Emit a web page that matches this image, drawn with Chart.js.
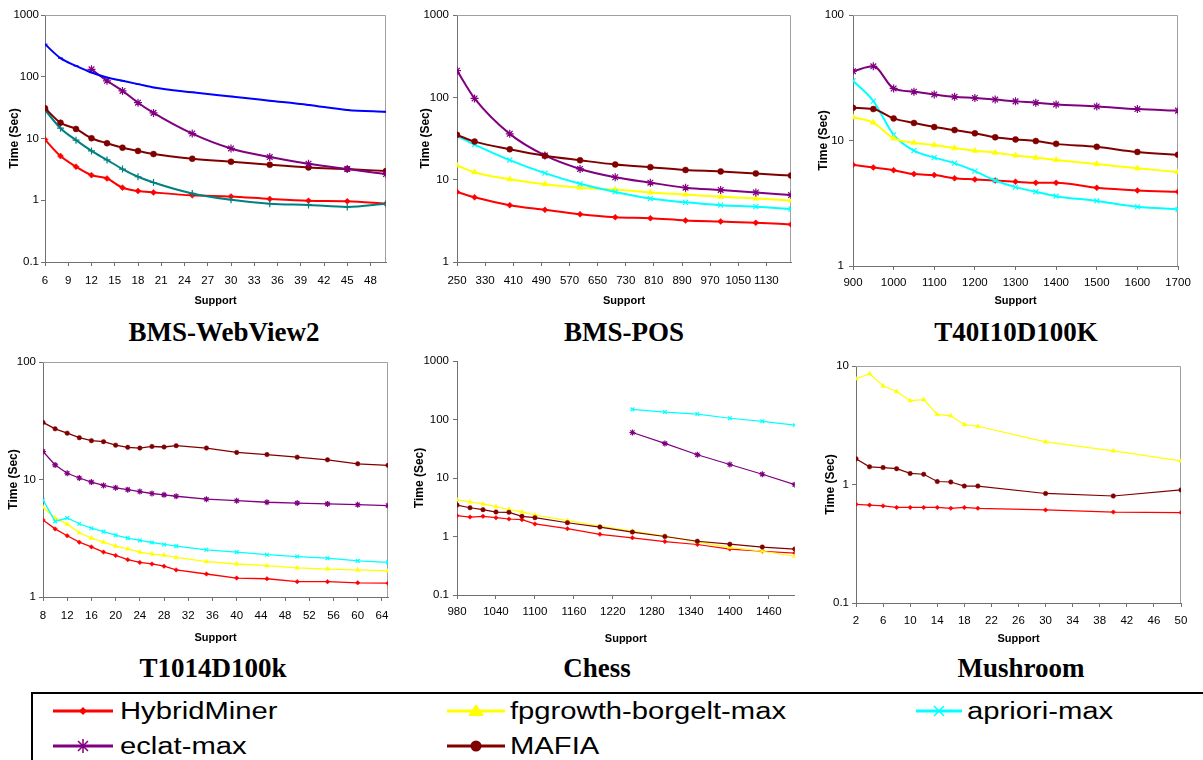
<!DOCTYPE html>
<html>
<head>
<meta charset="utf-8">
<title>Runtime comparison</title>
<script src="https://cdn.jsdelivr.net/npm/chart.js@4.4.1/dist/chart.umd.min.js"></script>
<style>
    body { margin: 0; background: #fff; }
    #page { position: relative; width: 1203px; height: 760px; overflow: hidden; background: #fff; }
    #page canvas { position: absolute; }
    .title { position: absolute; width: 320px; margin-left: -160px; text-align: center; font: bold 27px "Liberation Serif", "Times New Roman", serif; line-height: 27px; color: #000; }
    #legendBox { position: absolute; left: 31px; top: 692px; width: 1200px; height: 100px; border: 2px solid #000; box-sizing: border-box; }
    .item { position: absolute; height: 26px; }
    .item svg { position: absolute; left: 0; top: 0; }
    .item span { position: absolute; top: 0; line-height: 26px; font: 23px "Liberation Sans", Arial, sans-serif; color: #000; white-space: nowrap; transform: scaleX(1.27); transform-origin: left center; }
</style>
</head>
<body>
<div id="page"></div>
<script>
// BMS-WebView2
var webviewSupport = [6, 8, 10, 12, 14, 16, 18, 20, 25, 30, 35, 40, 45, 50];
var webviewHybrid = [9.6, 5.2, 3.5, 2.55, 2.25, 1.6, 1.41, 1.34, 1.2, 1.15, 1.05, 0.98, 0.96, 0.88];
var webviewApriori = [336, 200, 150, 117, 97, 86, 76, 67, 56, 48, 41, 35, 29, 27];
var webviewFpgrowth = [29, 14.7, 9.4, 6.3, 4.5, 3.2, 2.4, 1.94, 1.29, 1.02, 0.88, 0.84, 0.78, 0.88];
var webviewEclat = [null, null, null, 132, 86, 59, 38, 26, 12, 6.9, 5.0, 3.9, 3.2, 2.65];
var webviewMafia = [31, 18, 14.3, 10.1, 8.4, 7.1, 6.3, 5.6, 4.7, 4.2, 3.75, 3.4, 3.2, 2.97];
var webviewXTicks = [6, 9, 12, 15, 18, 21, 24, 27, 30, 33, 36, 39, 42, 45, 48];
var webviewYTicks = [0.1, 1, 10, 100, 1000];

// BMS-POS
var posSupport = [250, 300, 400, 500, 600, 700, 800, 900, 1000, 1100, 1200];
var posHybrid = [7.1, 6.1, 4.9, 4.3, 3.8, 3.5, 3.4, 3.2, 3.1, 3.0, 2.86];
var posFpgrowth = [14.9, 12.3, 10.1, 8.8, 8.0, 7.6, 7.0, 6.6, 6.2, 5.9, 5.6];
var posApriori = [34, 26.7, 17.3, 12, 8.9, 7.1, 5.9, 5.3, 4.9, 4.7, 4.4];
var posEclat = [211, 97, 36, 19.7, 13.5, 10.7, 9.2, 8.0, 7.5, 7.0, 6.5];
var posMafia = [35, 29, 23.4, 19.5, 17.2, 15.3, 14.2, 13.1, 12.6, 11.9, 11.2];
var posXTicks = [250, 330, 410, 490, 570, 650, 730, 810, 890, 970, 1050, 1130];
var posYTicks = [1, 10, 100, 1000];

// T40I10D100K
var t40Support = [900, 950, 1000, 1050, 1100, 1150, 1200, 1250, 1300, 1350, 1400, 1500, 1600, 1700];
var t40Hybrid = [6.4, 6.1, 5.8, 5.4, 5.3, 5.0, 4.9, 4.8, 4.7, 4.6, 4.6, 4.2, 4.0, 3.9];
var t40Fpgrowth = [15.3, 13.9, 10.4, 9.6, 9.2, 8.7, 8.3, 8.0, 7.6, 7.3, 7.0, 6.5, 6.0, 5.6];
var t40Apriori = [29.9, 20.6, 11.1, 8.3, 7.3, 6.6, 5.7, 4.8, 4.25, 3.9, 3.6, 3.3, 2.96, 2.83];
var t40Eclat = [35.7, 39, 26, 24.5, 23.3, 22.3, 21.8, 21.2, 20.5, 20, 19.4, 18.7, 17.8, 17.3];
var t40Mafia = [18.2, 17.8, 15, 13.8, 12.8, 12.1, 11.4, 10.6, 10.2, 9.9, 9.4, 8.9, 8.1, 7.7];
var t40XTicks = [900, 1000, 1100, 1200, 1300, 1400, 1500, 1600, 1700];
var t40YTicks = [1, 10, 100];

// T1014D100k
var t10Support = [8, 10, 12, 14, 16, 18, 20, 22, 24, 26, 28, 30, 35, 40, 45, 50, 55, 60, 65];
var t10Hybrid = [4.53, 3.8, 3.32, 2.93, 2.67, 2.41, 2.26, 2.08, 1.97, 1.91, 1.83, 1.70, 1.57, 1.45, 1.43, 1.35, 1.35, 1.32, 1.31];
var t10Fpgrowth = [5.8, 4.7, 4.17, 3.52, 3.17, 2.93, 2.71, 2.57, 2.41, 2.32, 2.27, 2.17, 2.0, 1.91, 1.85, 1.77, 1.73, 1.70, 1.67];
var t10Apriori = [6.7, 4.4, 4.7, 4.2, 3.85, 3.6, 3.36, 3.17, 3.03, 2.91, 2.80, 2.71, 2.52, 2.41, 2.29, 2.21, 2.14, 2.03, 1.97];
var t10Eclat = [17.3, 13.3, 11.3, 10.3, 9.5, 8.9, 8.5, 8.2, 7.9, 7.6, 7.4, 7.2, 6.8, 6.6, 6.4, 6.3, 6.2, 6.1, 6.0];
var t10Mafia = [30.6, 27, 24.8, 22.7, 21.4, 21, 19.6, 18.8, 18.5, 19.1, 18.9, 19.4, 18.5, 17, 16.3, 15.5, 14.7, 13.6, 13.2];
var t10XTicks = [8, 12, 16, 20, 24, 28, 32, 36, 40, 44, 48, 52, 56, 60, 64];
var t10YTicks = [1, 10, 100];

// Chess
var chessSupport = [980, 1000, 1020, 1040, 1060, 1080, 1100, 1150, 1200, 1250, 1300, 1350, 1400, 1450, 1500];
var chessHybrid = [2.27, 2.15, 2.21, 2.1, 1.99, 1.94, 1.64, 1.36, 1.09, 0.95, 0.82, 0.73, 0.61, 0.56, 0.52];
var chessFpgrowth = [4.26, 3.89, 3.6, 3.24, 2.88, 2.63, 2.33, 1.87, 1.51, 1.24, 1.02, 0.81, 0.65, 0.56, 0.46];
var chessApriori = [null, null, null, null, null, null, null, null, null, 149, 134, 124, 105, 93, 80];
var chessEclat = [null, null, null, null, null, null, null, null, null, 60, 39, 25, 17, 11.6, 7.7];
var chessMafia = [3.45, 3.1, 2.88, 2.62, 2.59, 2.21, 2.1, 1.72, 1.45, 1.19, 1.0, 0.83, 0.74, 0.66, 0.61];
var chessXTicks = [980, 1040, 1100, 1160, 1220, 1280, 1340, 1400, 1460];
var chessYTicks = [0.1, 1, 10, 100, 1000];

// Mushroom
var mushSupport = [2, 4, 6, 8, 10, 12, 14, 16, 18, 20, 30, 40, 50];
var mushHybrid = [0.68, 0.67, 0.66, 0.64, 0.64, 0.64, 0.64, 0.63, 0.64, 0.63, 0.61, 0.585, 0.58];
var mushFpgrowth = [7.8, 8.6, 6.8, 6.1, 5.1, 5.2, 3.9, 3.8, 3.2, 3.1, 2.29, 1.92, 1.58];
var mushMafia = [1.65, 1.41, 1.39, 1.36, 1.24, 1.22, 1.06, 1.05, 0.97, 0.97, 0.84, 0.80, 0.90];
var mushXTicks = [2, 6, 10, 14, 18, 22, 26, 30, 34, 38, 42, 46, 50];
var mushYTicks = [0.1, 1, 10];

var seriesStyle = {
    hybrid: { label: 'HybridMiner', color: '#FF0000', marker: 'rectRot', size: 3, filled: true },
    fpgrowth: { label: 'fpgrowth-borgelt-max', color: '#FFFF00', marker: 'triangle', size: 3.5, filled: true },
    apriori: { label: 'apriori-max', color: '#00FFFF', marker: 'crossRot', size: 3.5 },
    eclat: { label: 'eclat-max', color: '#800080', marker: 'star', size: 4 },
    mafia: { label: 'MAFIA', color: '#800000', marker: 'circle', size: 3, filled: true }
};
// the first panel uses other colours for two of the series
var webviewStyle = {
    apriori: { label: 'apriori-max', color: '#0000FF', marker: 'line', size: 2.5 },
    fpgrowth: { label: 'fpgrowth-borgelt-max', color: '#008080', marker: 'cross', size: 3.5 }
};

var FONT = '"Liberation Sans", Arial, sans-serif';
var page = document.getElementById('page');

var frameBox = {
    id: 'frameBox',
    beforeDatasetsDraw: function (chart, args, opts) {
        if (!opts.show) return;
        var a = chart.chartArea, ctx = chart.ctx;
        ctx.save();
        ctx.strokeStyle = '#a0a0a0';
        ctx.lineWidth = 1;
        ctx.beginPath();
        ctx.moveTo(a.left, Math.round(a.top) + 0.5);
        ctx.lineTo(Math.round(a.right) - 0.5, Math.round(a.top) + 0.5);
        ctx.lineTo(Math.round(a.right) - 0.5, a.bottom);
        ctx.stroke();
        ctx.restore();
    }
};

function toPoints(xs, ys) {
    return xs.map(function (x, i) { return { x: x, y: ys[i] }; })
        .filter(function (p) { return p.y != null; });
}

function makeChart(p) {
    var canvas = document.createElement('canvas');
    canvas.width = p.w;
    canvas.height = p.h;
    canvas.style.left = p.left + 'px';
    canvas.style.top = p.top + 'px';
    page.appendChild(canvas);

    var datasets = p.series.map(function (s) {
        var st = (p.styles && p.styles[s.key]) || seriesStyle[s.key];
        return {
            label: st.label,
            data: toPoints(p.support, s.values),
            borderColor: st.color,
            backgroundColor: st.color,
            borderWidth: p.lineWidth,
            pointStyle: st.marker,
            pointRadius: st.size * p.markerScale,
            pointBorderWidth: st.filled ? 0.5 : 1.2,
            pointBackgroundColor: st.color,
            pointBorderColor: st.color,
            cubicInterpolationMode: p.smooth ? 'monotone' : 'default',
            tension: 0
        };
    });

    return new Chart(canvas.getContext('2d'), {
        type: 'line',
        data: { datasets: datasets },
        options: {
            responsive: false,
            animation: false,
            events: [],
            layout: { padding: { left: 0, top: p.padTop, right: p.padRight, bottom: 0 } },
            plugins: {
                legend: { display: false },
                tooltip: { enabled: false },
                frameBox: { show: p.box }
            },
            scales: {
                x: {
                    type: 'linear',
                    min: p.xMin,
                    max: p.xMax,
                    afterBuildTicks: function (axis) {
                        axis.ticks = p.xTicks.map(function (v) { return { value: v }; });
                    },
                    afterFit: function (scale) { scale.height = p.xAxisH; },
                    ticks: {
                        autoSkip: false, maxRotation: 0, color: '#000', padding: p.xTickPad,
                        font: { family: FONT, size: 11.5 },
                        callback: function (v) { return String(v); }
                    },
                    grid: { drawOnChartArea: false, tickLength: 4, color: '#707070' },
                    border: { color: '#707070' },
                    title: {
                        display: true, text: 'Support', color: '#000',
                        font: { family: FONT, size: 11, weight: 'bold' },
                        padding: { top: 0, bottom: 2 }
                    }
                },
                y: {
                    type: 'logarithmic',
                    min: p.yTicks[0],
                    max: p.yTicks[p.yTicks.length - 1],
                    afterBuildTicks: function (axis) {
                        axis.ticks = p.yTicks.map(function (v) { return { value: v, major: true }; });
                    },
                    afterFit: function (scale) { scale.width = p.yAxisW; },
                    ticks: {
                        autoSkip: false, color: '#000', padding: p.yTickPad,
                        font: { family: FONT, size: 11.5 },
                        callback: function (v) { return String(v); }
                    },
                    grid: { drawOnChartArea: false, tickLength: 4, color: '#707070' },
                    border: { color: '#707070' },
                    title: {
                        display: true, text: 'Time (Sec)', color: '#000',
                        font: { family: FONT, size: 12, weight: 'bold' },
                        padding: { top: p.yTitlePad, bottom: 0 }
                    }
                }
            }
        },
        plugins: [frameBox]
    });
}

var panels = [
    {
        title: 'BMS-WebView2', titleX: 224, titleTop: 319,
        left: 0, top: 0, w: 400, h: 310, padTop: 15, padRight: 14, yAxisW: 45, xAxisH: 48,
        xTickPad: 8, yTickPad: 2, yTitlePad: 7, box: true, smooth: true, lineWidth: 2, markerScale: 1,
        support: webviewSupport, xMin: 6, xMax: 50, xTicks: webviewXTicks, yTicks: webviewYTicks,
        styles: webviewStyle,
        series: [
            { key: 'apriori', values: webviewApriori },
            { key: 'eclat', values: webviewEclat },
            { key: 'mafia', values: webviewMafia },
            { key: 'fpgrowth', values: webviewFpgrowth },
            { key: 'hybrid', values: webviewHybrid }
        ]
    },
    {
        title: 'BMS-POS', titleX: 624, titleTop: 319,
        left: 411, top: 0, w: 389, h: 310, padTop: 15, padRight: 9, yAxisW: 46, xAxisH: 48,
        xTickPad: 8, yTickPad: 4, yTitlePad: 7, box: true, smooth: true, lineWidth: 2, markerScale: 1,
        support: posSupport, xMin: 250, xMax: 1200, xTicks: posXTicks, yTicks: posYTicks,
        series: [
            { key: 'mafia', values: posMafia },
            { key: 'eclat', values: posEclat },
            { key: 'apriori', values: posApriori },
            { key: 'fpgrowth', values: posFpgrowth },
            { key: 'hybrid', values: posHybrid }
        ]
    },
    {
        title: 'T40I10D100K', titleX: 1016, titleTop: 319,
        left: 809, top: 0, w: 394, h: 310, padTop: 15, padRight: 25, yAxisW: 44, xAxisH: 44,
        xTickPad: 6, yTickPad: 5, yTitlePad: 7, box: true, smooth: true, lineWidth: 2, markerScale: 1,
        support: t40Support, xMin: 900, xMax: 1700, xTicks: t40XTicks, yTicks: t40YTicks,
        series: [
            { key: 'eclat', values: t40Eclat },
            { key: 'mafia', values: t40Mafia },
            { key: 'fpgrowth', values: t40Fpgrowth },
            { key: 'apriori', values: t40Apriori },
            { key: 'hybrid', values: t40Hybrid }
        ]
    },
    {
        title: 'T1014D100k', titleX: 213, titleTop: 655,
        left: 0, top: 350, w: 400, h: 297, padTop: 12, padRight: 12, yAxisW: 43, xAxisH: 50,
        xTickPad: 8, yTickPad: 3, yTitlePad: 6, box: true, smooth: false, lineWidth: 1.3, markerScale: 0.75,
        support: t10Support, xMin: 8, xMax: 65, xTicks: t10XTicks, yTicks: t10YTicks,
        series: [
            { key: 'mafia', values: t10Mafia },
            { key: 'eclat', values: t10Eclat },
            { key: 'apriori', values: t10Apriori },
            { key: 'fpgrowth', values: t10Fpgrowth },
            { key: 'hybrid', values: t10Hybrid }
        ]
    },
    {
        title: 'Chess', titleX: 597, titleTop: 655,
        left: 405, top: 350, w: 395, h: 298, padTop: 11, padRight: 1, yAxisW: 52, xAxisH: 53,
        xTickPad: 6, yTickPad: 4, yTitlePad: 7, box: false, smooth: false, lineWidth: 1.2, markerScale: 0.75,
        support: chessSupport, xMin: 980, xMax: 1500, xTicks: chessXTicks, yTicks: chessYTicks,
        series: [
            { key: 'apriori', values: chessApriori },
            { key: 'eclat', values: chessEclat },
            { key: 'mafia', values: chessMafia },
            { key: 'fpgrowth', values: chessFpgrowth },
            { key: 'hybrid', values: chessHybrid }
        ]
    },
    {
        title: 'Mushroom', titleX: 1021, titleTop: 655,
        left: 816, top: 350, w: 387, h: 298, padTop: 16, padRight: 22, yAxisW: 40, xAxisH: 45,
        xTickPad: 7, yTickPad: 3, yTitlePad: 7, box: true, smooth: false, lineWidth: 1.2, markerScale: 0.75,
        support: mushSupport, xMin: 2, xMax: 50, xTicks: mushXTicks, yTicks: mushYTicks,
        series: [
            { key: 'fpgrowth', values: mushFpgrowth },
            { key: 'mafia', values: mushMafia },
            { key: 'hybrid', values: mushHybrid }
        ]
    }
];

panels.forEach(function (p) {
    makeChart(p);
    var t = document.createElement('div');
    t.className = 'title';
    t.style.left = p.titleX + 'px';
    t.style.top = p.titleTop + 'px';
    t.textContent = p.title;
    page.appendChild(t);
});

// legend
var box = document.createElement('div');
box.id = 'legendBox';
page.appendChild(box);

var legendItems = [
    { key: 'hybrid', lineX: 53, lineW: 60, textX: 120, cy: 711 },
    { key: 'fpgrowth', lineX: 447, lineW: 58, textX: 510, cy: 711 },
    { key: 'apriori', lineX: 916, lineW: 46, textX: 967, cy: 711 },
    { key: 'eclat', lineX: 53, lineW: 60, textX: 120, cy: 746 },
    { key: 'mafia', lineX: 447, lineW: 58, textX: 510, cy: 746 }
];

function markerSvg(marker, cx, cy, color) {
    if (marker === 'rectRot') {
        return '<polygon points="' + cx + ',' + (cy - 4) + ' ' + (cx + 4) + ',' + cy + ' ' + cx + ',' + (cy + 4) + ' ' + (cx - 4) + ',' + cy + '" fill="' + color + '"/>';
    }
    if (marker === 'triangle') {
        return '<polygon points="' + cx + ',' + (cy - 7) + ' ' + (cx + 8) + ',' + (cy + 5) + ' ' + (cx - 8) + ',' + (cy + 5) + '" fill="' + color + '"/>';
    }
    if (marker === 'crossRot') {
        return '<path d="M' + (cx - 5) + ' ' + (cy - 5) + 'L' + (cx + 5) + ' ' + (cy + 5) + 'M' + (cx + 5) + ' ' + (cy - 5) + 'L' + (cx - 5) + ' ' + (cy + 5) + '" stroke="' + color + '" stroke-width="1.5"/>';
    }
    if (marker === 'star') {
        return '<path d="M' + (cx - 5) + ' ' + (cy - 5) + 'L' + (cx + 5) + ' ' + (cy + 5) + 'M' + (cx + 5) + ' ' + (cy - 5) + 'L' + (cx - 5) + ' ' + (cy + 5) + 'M' + cx + ' ' + (cy - 7) + 'L' + cx + ' ' + (cy + 7) + '" stroke="' + color + '" stroke-width="1.5"/>';
    }
    return '<circle cx="' + cx + '" cy="' + cy + '" r="5.5" fill="' + color + '"/>';
}

legendItems.forEach(function (it) {
    var st = seriesStyle[it.key];
    var d = document.createElement('div');
    d.className = 'item';
    d.style.left = it.lineX + 'px';
    d.style.top = (it.cy - 13) + 'px';
    var mid = it.lineW / 2;
    d.innerHTML = '<svg width="' + it.lineW + '" height="26">' +
        '<line x1="0" y1="13" x2="' + it.lineW + '" y2="13" stroke="' + st.color + '" stroke-width="3"/>' +
        markerSvg(st.marker, mid, 13, st.color) + '</svg>' +
        '<span style="left:' + (it.textX - it.lineX) + 'px">' + st.label + '</span>';
    page.appendChild(d);
});
</script>
</body>
</html>
